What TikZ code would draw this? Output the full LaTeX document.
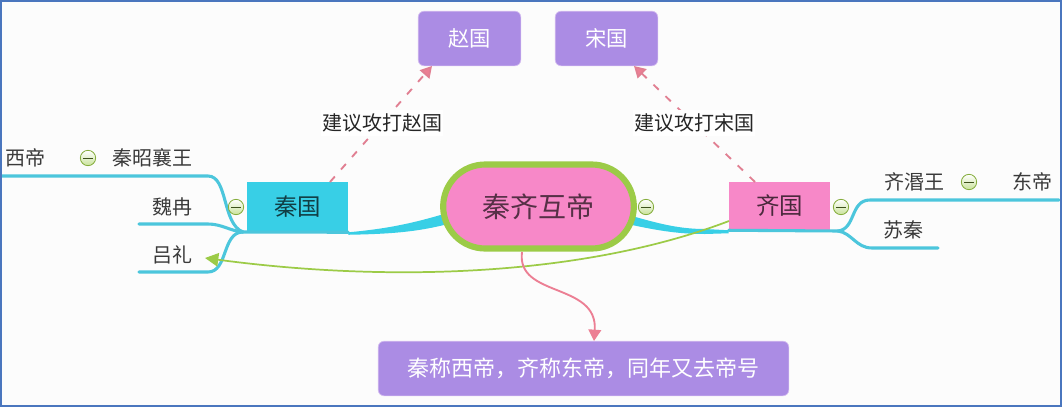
\documentclass[tikz,border=0pt]{standalone}
\usepackage{fontspec}
\setmainfont{Noto Sans CJK SC}
\usetikzlibrary{arrows.meta,shapes.misc,calc}
\definecolor{branch}{HTML}{4CC6DC}
\definecolor{cthick}{HTML}{38CFE6}
\definecolor{cpink}{HTML}{F788C8}
\definecolor{cgreen}{HTML}{9CCB47}
\definecolor{purp}{HTML}{AB8CE4}
\definecolor{purpb}{HTML}{D5BEF0}
\definecolor{rel}{HTML}{EC7F94}
\definecolor{txt}{HTML}{3A3A3A}
\definecolor{frameblue}{HTML}{4A76BE}
\tikzset{
  x=0.75pt,y=-0.75pt,
  lbl/.style={inner sep=0pt,text=txt,font=\fontsize{15}{17}\selectfont},
  purpbox/.style={draw=purpb,line width=0.5pt,fill=purp,rounded corners=4.5pt,text=white,inner sep=0pt},
  topic/.style={inner sep=0pt,font=\fontsize{17.6}{20}\selectfont},
  branchline/.style={draw=branch,line width=2.3pt,line cap=round},
  minusicon/.style={circle,draw=cgreen!85!black,line width=0.6pt,top color=white,bottom color=cgreen!55,minimum size=11.5pt,inner sep=0pt,
    path picture={\draw[black!60!cgreen,line width=0.6pt] ($(path picture bounding box.center)+(-5,0)$) -- ($(path picture bounding box.center)+(5,0)$);}},
  relline/.style={draw=rel,line width=1.4pt,-{Triangle[length=8.5pt,width=9.5pt,fill=rel]}},
  reldash/.style={relline,draw=rel!90!gray,dash pattern=on 5.5pt off 7pt},
  greenline/.style={draw=cgreen,line width=1.3pt,-{Triangle[length=10pt,width=10pt,fill=cgreen]}}
}
\begin{document}
\begin{tikzpicture}
\useasboundingbox (0,0) rectangle (1062,407);
\fill[white!99!black] (0,0) rectangle (1062,407);
% named coordinates
\coordinate (qinhub) at (243,232);
\coordinate (qihub) at (838,231);
\coordinate (xidi) at (0,176);
\coordinate (weiend) at (139,224);
\coordinate (lvend) at (139,272);
\coordinate (dongend) at (1059,200);
\coordinate (suend) at (938,248);
% boxes
\node[purpbox,font=\fontsize{16}{18}\selectfont,minimum width=77pt,minimum height=41pt] (zhao) at (469.5,38.5) {赵国};
\node[purpbox,font=\fontsize{16}{18}\selectfont,minimum width=77pt,minimum height=41pt] (song) at (606.5,38.5) {宋国};
\node[purpbox,font=\fontsize{16.5}{18}\selectfont,minimum width=308pt,minimum height=41pt] (note) at (583.5,368.5) {秦称西帝，齐称东帝，同年又去帝号};
\node[topic,fill=cthick,text=black!70!cthick,minimum width=76pt,minimum height=37.5pt] (qin) at (297.5,207) {秦国};
\node[topic,fill=cpink,text=black!70!cpink,minimum width=76pt,minimum height=36pt] (qi) at (779.5,206) {齐国};
% branches
\draw[branchline] (xidi) -- (208,176) .. controls (228,176) and (222,224) .. (qinhub);
\draw[branchline] (weiend) -- (208,224) .. controls (222,224) and (230,231) .. (qinhub);
\draw[branchline] (lvend) -- (208,272) .. controls (228,272) and (222,232) .. (qinhub);
\draw[branchline] (qinhub) -- (qin.south east);
\draw[branchline] (qi.south west) -- (qihub);
\draw[branchline] (qihub) .. controls (856,229) and (850,200) .. (870,200) -- (dongend);
\draw[branchline] (qihub) .. controls (852,233) and (856,248) .. (872,248) -- (suend);
% thick connectors to the centre
\coordinate (cl1) at (444,214);
\coordinate (cl2) at (444,225);
\coordinate (cr1) at (632,216);
\coordinate (cr2) at (632,225);
\fill[cthick] (cl1) .. controls (410,224) and (385,229) .. (qin.south east) -- ++(0,2.5) .. controls (390,234) and (415,232) .. (cl2) -- cycle;
\fill[cthick] (cr1) .. controls (660,224) and (680,229) .. (705,229) -- (qi.south west) -- ++(0,3) -- (705,234) .. controls (680,234) and (660,231) .. (cr2) -- cycle;
% centre
\node[rounded rectangle,draw=cgreen,line width=4.6pt,fill=cpink,text=black!65!cpink,minimum width=143pt,minimum height=63pt,inner sep=0pt,font=\fontsize{21}{24}\selectfont] (center) at (538.5,206.5) {秦齐互帝};
% labels
\node[lbl] (tx) at (25,158) {西帝};
\node[lbl] (tk) at (152,158) {秦昭襄王};
\node[lbl] (tw) at (172,207) {魏冉};
\node[lbl] (tl) at (172,255) {吕礼};
\node[lbl] (tq) at (914,182) {齐湣王};
\node[lbl] (td) at (1032,182) {东帝};
\node[lbl] (ts) at (903,230) {苏秦};
% icons
\node[minusicon] (m1) at (88,158) {};
\node[minusicon] (m2) at (236,207) {};
\node[minusicon] (m3) at (646,207) {};
\node[minusicon] (m4) at (841,207) {};
\node[minusicon] (m5) at (969,182) {};
% relationships
\coordinate (zs) at (330,182);
\coordinate (ze) at (432,66);
\coordinate (ss) at (755,182);
\coordinate (se) at (634,66);
\draw[reldash] (zs) -- (ze);
\draw[reldash] (ss) -- (se);
\node[lbl,fill=white,text=black!85,inner xsep=1pt,inner ysep=3pt] (lz) at (382,123) {建议攻打赵国};
\node[lbl,fill=white,text=black!85,inner xsep=1pt,inner ysep=3pt] (ls) at (694,123) {建议攻打宋国};
\coordinate (gs) at (729,221);
\coordinate (ge) at (205,258);
\draw[greenline] (gs) .. controls (590,274) and (400,284) .. (ge);
\coordinate (ps) at (522,252);
\coordinate (pe) at (594,341);
\draw[relline] (ps) .. controls (516,298) and (598,282) .. (pe);
% frame
\draw[frameblue,line width=1.5pt] (1,1) rectangle (1061,406);
\end{tikzpicture}
\end{document}
